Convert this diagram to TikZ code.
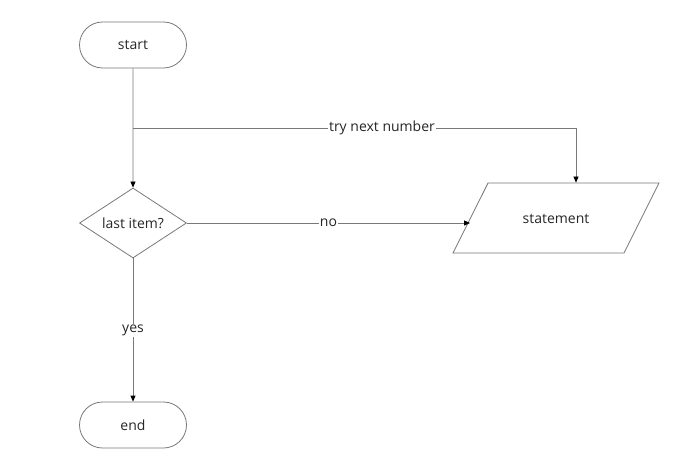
\documentclass[tikz,border=0pt]{standalone}
\usepackage{fontspec}
\setmainfont{Open Sans}
\usetikzlibrary{shapes.misc,shapes.geometric,arrows.meta}
\definecolor{linegray}{RGB}{120,120,120}
\begin{document}
\begin{tikzpicture}[
            x=1pt, y=-1pt,
            every node/.style={font=\fontsize{14}{16}\selectfont, text=black!85},
            terminal/.style={rounded rectangle, draw=linegray, line width=0.8pt, minimum width=107pt, minimum height=46pt, inner sep=0pt},
            decision/.style={diamond, draw=linegray, line width=0.8pt, aspect=1.53, minimum width=107pt, minimum height=70pt, inner sep=0pt},
            io/.style={trapezium, trapezium left angle=63.4, trapezium right angle=116.6, trapezium stretches body=true, draw=linegray, line width=0.8pt, text height=12pt, text depth=1pt, inner ysep=28.5pt, inner xsep=0pt, minimum width=206pt},
            flow/.style={draw=linegray, line width=0.8pt, -{Triangle[length=6pt,width=5pt,color=black]}},
            tag/.style={fill=white, inner sep=1pt}
        ]
            \useasboundingbox (0,0) rectangle (692,460);

            \node[terminal] (start) at (133, 45) {start};
            \node[decision] (last) at (133, 223) {last item?};
            \node[io] (stmt) at (556, 218) {statement};
            \node[terminal] (end) at (133, 425) {end};
            \coordinate (split) at (133, 128);

            \draw[flow] (start) -- (last);
            \draw[flow] (split) -| node[tag, pos=0.281] {try next number} ([xshift=20pt]stmt.north);
            \draw[flow] (last.east) -- node[tag] {no} (last.east -| stmt.west);
            \draw[flow] (last) -- node[tag] {yes} (end);
        \end{tikzpicture}
\end{document}
